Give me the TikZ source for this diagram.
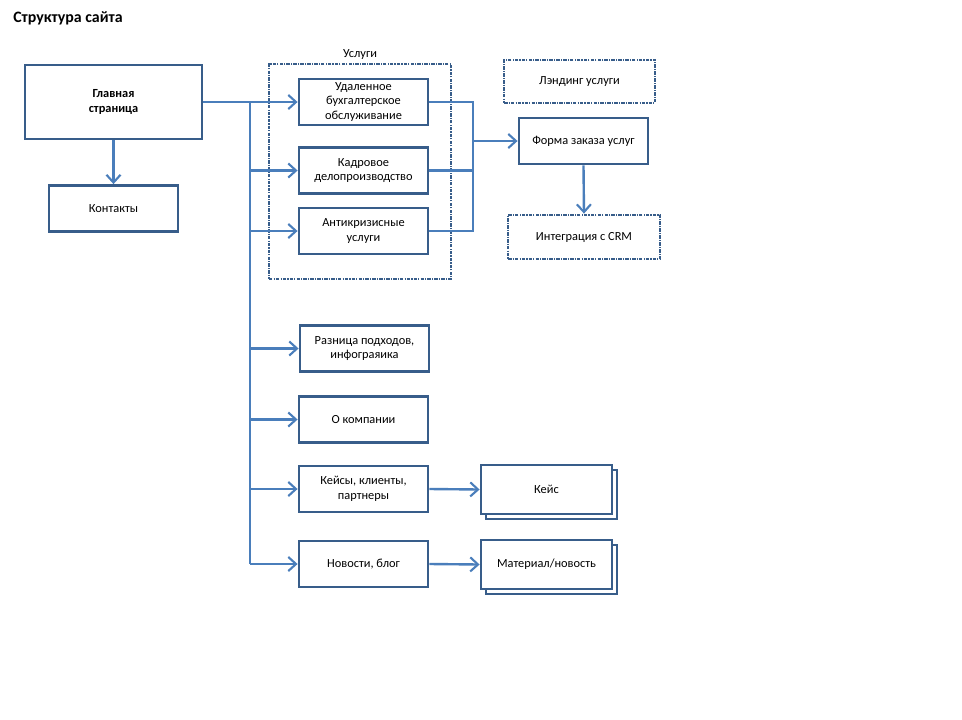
\documentclass[tikz,border=0pt]{standalone}
\usepackage{fontspec}
\setmainfont{Carlito}
\definecolor{boxblue}{RGB}{56,93,138}
\definecolor{linkblue}{RGB}{74,126,187}
\usetikzlibrary{arrows.meta,positioning,shadows}

\begin{document}
\begin{tikzpicture}[x=0.025cm, y=-0.025cm,
    pagebox/.style={rectangle, minimum width=3.225cm, minimum height=1.15cm, draw=boxblue,
      line width=2pt, fill=white, align=center, inner sep=1pt, font=\fontsize{8.8}{10.6}\selectfont},
    planbox/.style={pagebox, dash pattern=on 2.5pt off 0.8pt on 0.8pt off 0.8pt},
    listbox/.style={pagebox, minimum width=3.275cm, minimum height=1.225cm,
      copy shadow={shadow xshift=3.5pt, shadow yshift=-3.5pt}},
    wire/.style={draw=linkblue, line width=1.7pt},
    link/.style={wire, -{Straight Barb[length=5.5pt, width=10pt, line width=1.5pt]}}
  ]
    \useasboundingbox (0,0) rectangle (962,719);
    \node[anchor=west, inner sep=0pt, font=\fontsize{11.3}{13}\selectfont\bfseries] (title) at (13,18) {Структура сайта};

    \node[pagebox, minimum width=4.425cm, minimum height=1.85cm, font=\fontsize{8.8}{10.6}\selectfont\bfseries]
      (main) at (113.5,102) {Главная\\страница};
    \node[pagebox] (contacts) at (113.5,208.5) {Контакты};

    \node[planbox, minimum width=4.55cm, minimum height=5.375cm] (services) at (360,171.5) {};
    \node[font=\fontsize{8.8}{10.6}\selectfont, above=-1pt of services] (servlabel) {Услуги};
    \node[pagebox] (s1) at (363.5,102) {Удаленное\\бухгалтерское\\обслуживание};
    \node[pagebox] (s2) at (363.5,170.5) {Кадровое\\делопроизводство};
    \node[pagebox] (s3) at (363.5,231) {Антикризисные\\услуги};

    \node[planbox, minimum width=3.775cm, minimum height=1.075cm] (landing) at (579.5,81.5) {Лэндинг услуги};
    \node[pagebox] (order) at (583.5,141) {Форма заказа услуг};
    \node[planbox, minimum width=3.8cm, minimum height=1.1cm] (crm) at (584,237) {Интеграция с CRM};

    \node[pagebox] (p1) at (364.5,348.5) {Разница подходов,\\инфограяика};
    \node[pagebox] (p2) at (363.5,419.5) {О компании};
    \node[pagebox] (p3) at (363.5,489) {Кейсы, клиенты,\\партнеры};
    \node[pagebox] (p4) at (363.5,564) {Новости, блог};
    \node[listbox] (case) at (546.5,489.5) {Кейс};
    \node[listbox] (news) at (546.5,564.5) {Материал/новость};

    \coordinate (trunk) at (250,102);
    \coordinate (merge) at (473,141);

    \draw[link] (main.south) -- (contacts.north);
    \draw[link] (main.east) -- (s1.west);
    \draw[wire] (trunk) -- (trunk |- p4.west);
    \foreach \n in {s2,s3,p1,p2,p3,p4}
      \draw[link] (trunk |- \n.west) -- (\n.west);

    \draw[wire] (s1.east) -- (s1.east -| merge) -- (s3.east -| merge) -- (s3.east);
    \draw[wire] (s2.east) -- (s2.east -| merge);
    \draw[link] (merge) -- (order.west);
    \draw[link] (order.south) -- (crm.north);

    \draw[link] (p3.east) -- (case.west);
    \draw[link] (p4.east) -- (news.west);
  \end{tikzpicture}
\end{document}
